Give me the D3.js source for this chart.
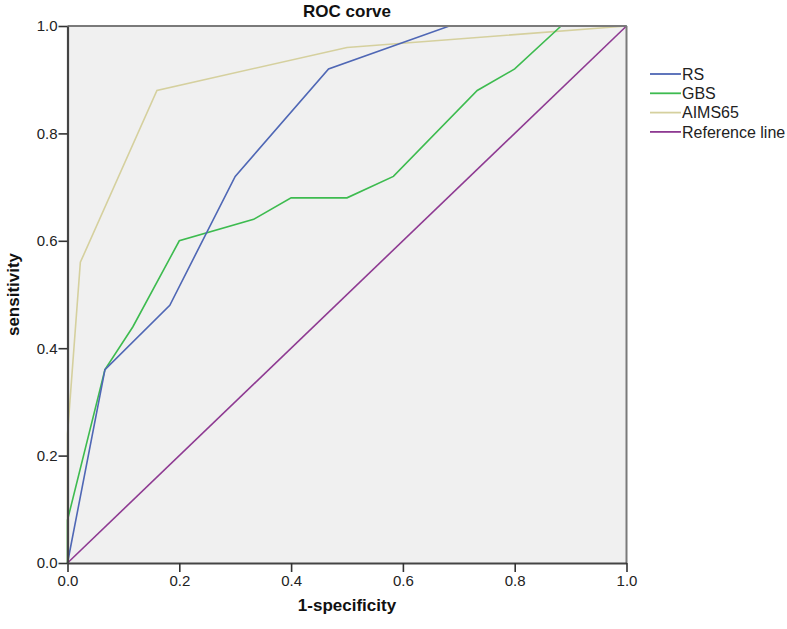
<!DOCTYPE html>
<html><head><meta charset="utf-8">
<script src="https://cdn.jsdelivr.net/npm/d3@7"></script>
<style>body{margin:0;background:#fff;} text{font-family:Arial,"Liberation Sans",sans-serif;}</style>
</head><body>
<svg id="c" width="787" height="629"></svg>
<script>
const seriesNames = ["RS", "GBS", "AIMS65", "Reference line"];
const seriesColors = ["#4f67b5", "#3dbb4f", "#d5d09e", "#8e3a92"];
const rsX = [0, 0.067, 0.183, 0.3, 0.467, 0.683, 1];
const rsY = [0, 0.36, 0.48, 0.72, 0.92, 1, 1];
const gbsX = [0, 0, 0.067, 0.117, 0.2, 0.333, 0.4, 0.5, 0.583, 0.733, 0.8, 0.883, 1];
const gbsY = [0, 0.08, 0.36, 0.44, 0.6, 0.64, 0.68, 0.68, 0.72, 0.88, 0.92, 1, 1];
const aimsX = [0, 0, 0.023, 0.16, 0.5, 1];
const aimsY = [0, 0.24, 0.56, 0.88, 0.96, 1];
const refX = [0, 1];
const refY = [0, 1];
const tickVals = [0, 0.2, 0.4, 0.6, 0.8, 1.0];
const titleText = "ROC corve";
const xLabel = "1-specificity";
const yLabel = "sensitivity";

const svg = d3.select("#c");
const x = d3.scaleLinear().domain([0, 1]).range([67.5, 626.5]);
const y = d3.scaleLinear().domain([0, 1]).range([563, 26]);

svg.append("rect").attr("x", x(0)).attr("y", y(1)).attr("width", x(1) - x(0)).attr("height", y(0) - y(1)).attr("fill", "#f0f0f0");

const series = [[rsX, rsY], [gbsX, gbsY], [aimsX, aimsY], [refX, refY]];
const line = d3.line().x(d => x(d[0])).y(d => y(d[1]));
[3, 2, 1, 0].forEach(i => {
  const pts = series[i][0].map((v, j) => [v, series[i][1][j]]);
  svg.append("path").attr("d", line(pts)).attr("fill", "none").attr("stroke", seriesColors[i]).attr("stroke-width", 1.6);
});

svg.append("line").attr("x1", x(0)).attr("x2", x(1)).attr("y1", y(1)).attr("y2", y(1)).attr("stroke", "#7a7a7a").attr("stroke-width", 2);
svg.append("line").attr("x1", x(1)).attr("x2", x(1)).attr("y1", y(1)).attr("y2", y(0)).attr("stroke", "#7a7a7a").attr("stroke-width", 2);

const fmt = d3.format(".1f");
const xAxis = svg.append("g").attr("transform", `translate(0,${y(0)})`)
  .call(d3.axisBottom(x).tickValues(tickVals).tickFormat(fmt).tickSize(9).tickSizeOuter(0));
const yAxis = svg.append("g").attr("transform", `translate(${x(0)},0)`)
  .call(d3.axisLeft(y).tickValues(tickVals).tickFormat(fmt).tickSize(9).tickSizeOuter(0));
[xAxis, yAxis].forEach(g => {
  g.select(".domain").attr("stroke", "#444").attr("stroke-width", 2.2);
  g.selectAll(".tick line").attr("stroke", "#333").attr("stroke-width", 1.6);
  g.selectAll(".tick text").attr("fill", "#222").style("font-size", "15px").style("font-family", "Arial, 'Liberation Sans', sans-serif");
});
xAxis.selectAll(".tick text").attr("dy", "0.9em").attr("y", 9);
yAxis.selectAll(".tick text").attr("x", -10);

svg.append("text").attr("x", x(0.5)).attr("y", 17).attr("text-anchor", "middle").attr("font-weight", "bold").attr("font-size", 17).attr("fill", "#111").text(titleText);
svg.append("text").attr("x", x(0.5)).attr("y", 611).attr("text-anchor", "middle").attr("font-weight", "bold").attr("font-size", 17).attr("fill", "#111").text(xLabel);
svg.append("text").attr("transform", `translate(19,${y(0.5)}) rotate(-90)`).attr("text-anchor", "middle").attr("font-weight", "bold").attr("font-size", 17).attr("fill", "#111").text(yLabel);

const leg = svg.append("g");
seriesNames.forEach((n, i) => {
  const yy = 74 + i * 19.3;
  leg.append("line").attr("x1", 650).attr("x2", 681).attr("y1", yy).attr("y2", yy).attr("stroke", seriesColors[i]).attr("stroke-width", 1.8);
  leg.append("text").attr("x", 682).attr("y", yy).attr("dy", "0.35em").attr("font-size", 16).attr("fill", "#222").text(n);
});
</script>
</body></html>
